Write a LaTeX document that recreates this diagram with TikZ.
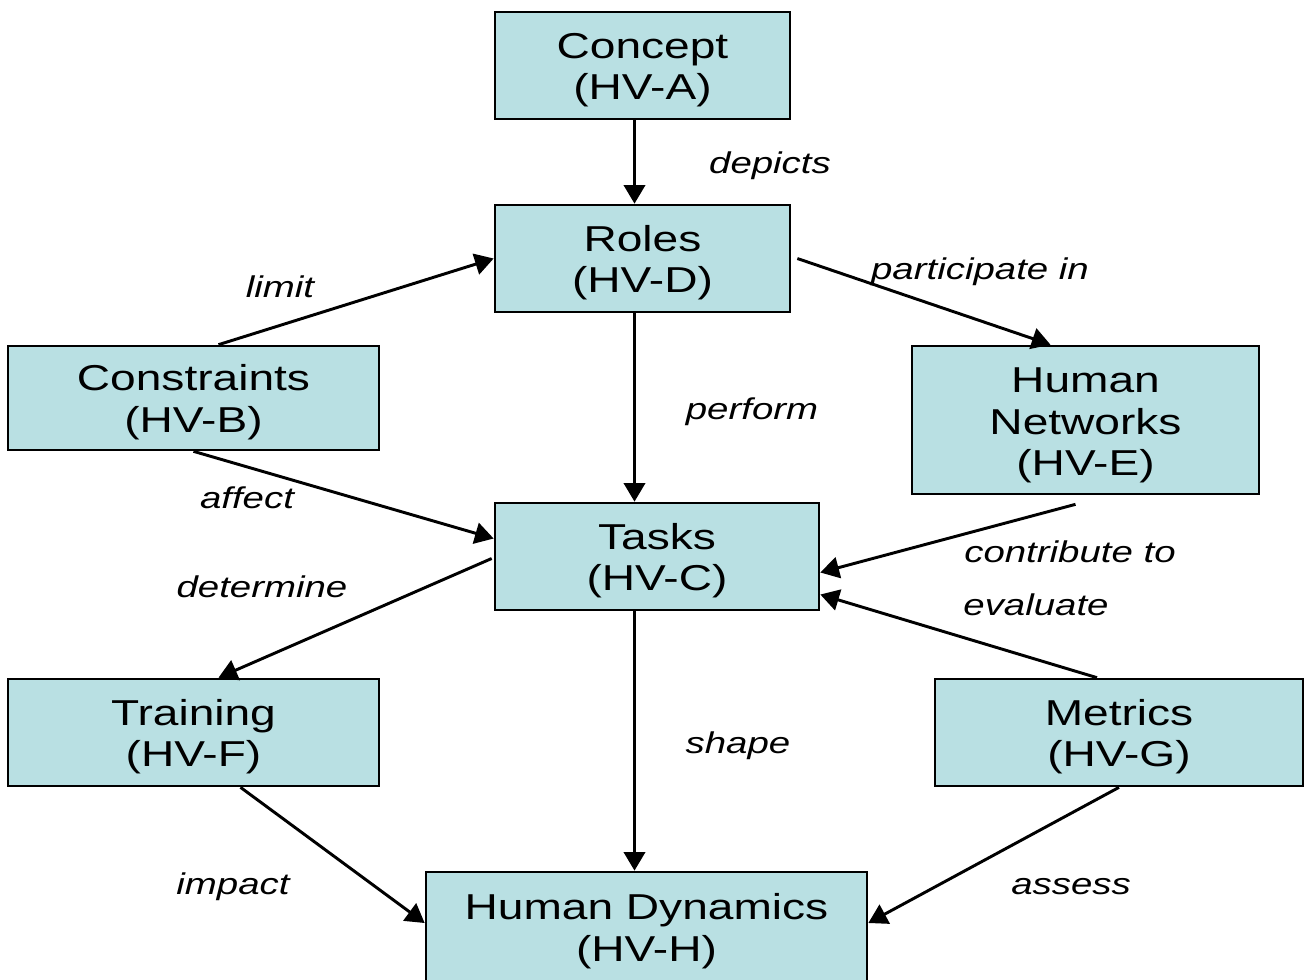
\documentclass[tikz,border=0pt]{standalone}
\usepackage{fontspec}
\setmainfont[FakeStretch=1.28]{Liberation Sans}
\usetikzlibrary{arrows.meta,calc}
\definecolor{boxfill}{HTML}{B9E0E3}
% box caption, stacked lines set slightly below the centre
\newcommand\hvtext[2][-4pt]{\raisebox{#1}[\height][\depth]{\begin{tabular}{@{}c@{}}#2\end{tabular}}}
\begin{document}
\begin{tikzpicture}[x=0.75pt,y=-0.75pt,
  hvbox/.style={draw=black, line width=2pt, fill=boxfill, align=center, inner sep=0pt,
    font=\fontsize{27}{31}\selectfont},
  link/.style={line width=2.2pt, -{Triangle[length=14pt,width=16pt]}},
  verb/.style={anchor=base, inner sep=0pt, font=\fontsize{22.5}{26}\selectfont\itshape}]
\useasboundingbox (0,0) rectangle (1304,979);

% views
\node[hvbox, minimum width=221.25pt, minimum height=80.25pt] (concept) at (642.5,65.5) {\hvtext{Concept\\(HV-A)}};
\node[hvbox, minimum width=221.25pt, minimum height=80.25pt] (roles) at (642.5,258.5) {\hvtext{Roles\\(HV-D)}};
\node[hvbox, minimum width=278.25pt, minimum height=78pt] (constraints) at (193.5,398) {\hvtext{Constraints\\(HV-B)}};
\node[hvbox, minimum width=260.25pt, minimum height=111pt] (hnet) at (1085.5,420) {\hvtext[-4.5pt]{Human\\Networks\\(HV-E)}};
\node[hvbox, minimum width=243pt, minimum height=80.25pt] (tasks) at (657,556.5) {\hvtext{Tasks\\(HV-C)}};
\node[hvbox, minimum width=278.25pt, minimum height=80.25pt] (training) at (193.5,732.5) {\hvtext{Training\\(HV-F)}};
\node[hvbox, minimum width=276pt, minimum height=80.25pt] (metrics) at (1119,732.5) {\hvtext{Metrics\\(HV-G)}};
\node[hvbox, minimum width=330.75pt, minimum height=88.5pt] (hdyn) at (646.5,931) {\hvtext[-1pt]{Human Dynamics\\(HV-H)}};

% relations
\draw[link] ($(concept.south)+(-8,0)$) -- ($(roles.north)+(-8,0)$);
\draw[link] ($(constraints.north)+(25,0)$) -- (roles.west);
\draw[link] ($(roles.east)+(6,0)$) -- ($(hnet.north)+(-35,0)$);
\draw[link] ($(roles.south)+(-8,0)$) -- ($(tasks.north)+(-22.5,0)$);
\draw[link] (constraints.south) -- ($(tasks.west)+(0,-18)$);
\draw[link] ($(hnet.south)+(-10,9)$) -- ($(tasks.east)+(0,16)$);
\draw[link] ($(metrics.north)+(-22,0)$) -- ($(tasks.east)+(0,38)$);
\draw[link] ($(tasks.west)+(-2,2)$) -- ($(training.north)+(25,0)$);
\draw[link] ($(tasks.south)+(-22.5,0)$) -- ($(hdyn.north)+(-12,0)$);
\draw[link] ($(training.south)+(47,0)$) -- ($(hdyn.west)+(0,-8)$);
\draw[link] (metrics.south) -- ($(hdyn.east)+(0,-8)$);

% relation labels
\node[verb] (ldepicts) at (770,173) {depicts};
\node[verb] (llimit) at (280,297) {limit};
\node[verb] (lpart) at (980,279) {participate in};
\node[verb] (lperform) at (752,419) {perform};
\node[verb] (laffect) at (247,508) {affect};
\node[verb] (lcontrib) at (1070,562) {contribute to};
\node[verb] (leval) at (1036,615) {evaluate};
\node[verb] (ldeterm) at (262,597) {determine};
\node[verb] (lshape) at (738,753) {shape};
\node[verb] (limpact) at (233,894) {impact};
\node[verb] (lassess) at (1071,894) {assess};
\end{tikzpicture}
\end{document}
